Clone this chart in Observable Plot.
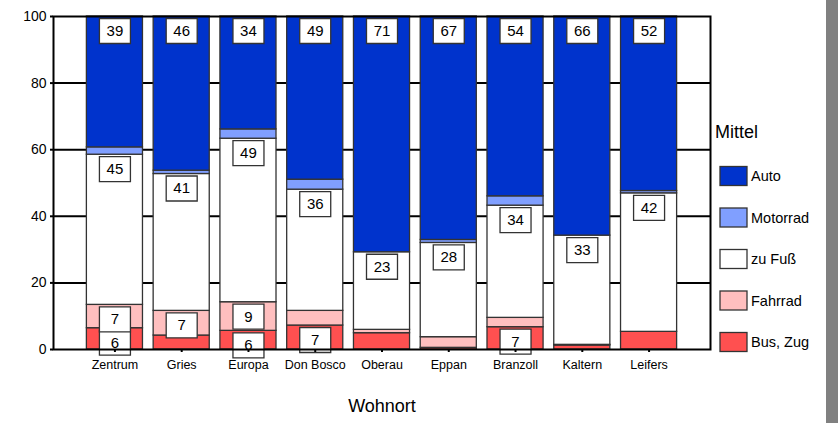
<!DOCTYPE html>
<html>
<head>
<meta charset="utf-8">
<script src="https://cdn.jsdelivr.net/npm/d3@7"></script>
<script src="https://cdn.jsdelivr.net/npm/@observablehq/plot@0.6"></script>
<style>
  html, body { margin: 0; padding: 0; background: #fff; }
  #chart { position: relative; width: 838px; height: 423px; }
</style>
</head>
<body>
<div id="chart"></div>
<script>
const places = ["Zentrum", "Gries", "Europa", "Don Bosco", "Oberau", "Eppan", "Branzoll", "Kaltern", "Leifers"];
const modes = ["Bus, Zug", "Fahrrad", "zu Fuß", "Motorrad", "Auto"];
const legendOrder = ["Auto", "Motorrad", "zu Fuß", "Fahrrad", "Bus, Zug"];
const colors = ["#ff5050", "#ffbfbf", "#ffffff", "#809fff", "#0033cc"];
const busZug   = [6.4, 4.2, 5.6, 7.2, 4.9, 0.5, 6.7, 1.2, 5.3];
const fahrrad  = [7.0, 7.4, 8.6, 4.4, 1.0, 3.2, 2.8, 0.2, 0.0];
const zuFuss   = [45.1, 41.1, 49.1, 36.4, 23.3, 28.3, 33.7, 32.8, 41.6];
const motorrad = [2.2, 1.0, 2.8, 3.0, 0.0, 0.9, 2.8, 0.0, 0.7];
const auto     = [39.3, 46.3, 33.9, 49.0, 70.8, 67.1, 54.0, 65.8, 52.4];
const yTicks = [0, 20, 40, 60, 80, 100];
const gridValues = [20, 40, 60, 80];

const series = [busZug, fahrrad, zuFuss, motorrad, auto];
const data = [];
places.forEach((p, i) => {
  modes.forEach((m, j) => data.push({Wohnort: p, Mittel: m, value: series[j][i]}));
});

const boxSymbol = { draw(ctx) { ctx.rect(-15.5, -12.5, 31, 25); } };
const labelOpts = {x: "Wohnort", y: "value", z: "Mittel"};

const chart = Plot.plot({
  width: 838,
  height: 423,
  marginLeft: 53,
  marginRight: 128,
  marginTop: 16,
  marginBottom: 74,
  style: {fontFamily: "'Liberation Sans', Arial, sans-serif", background: "#fff", color: "#000"},
  x: {domain: places, paddingInner: 0.16, paddingOuter: 0.5, round: false, label: null},
  y: {domain: [0, 100], ticks: yTicks, label: null},
  color: {domain: modes, range: colors},
  marks: [
    Plot.ruleY(gridValues, {stroke: "#000", strokeWidth: 2}),
    Plot.barY(data, Plot.stackY({x: "Wohnort", y: "value", fill: "Mittel", z: "Mittel", stroke: "#333", strokeWidth: 1.3})),
    Plot.dot(data, Plot.filter(d => d.value >= 5.5, Plot.stackY2({...labelOpts, symbol: boxSymbol, r: 5, fill: "#fff", stroke: "#333", strokeWidth: 1.3, dy: 14.5}))),
    Plot.text(data, Plot.filter(d => d.value >= 5.5, Plot.stackY2({...labelOpts, text: d => d3.format(".0f")(d.value), fontSize: 15, fill: "#000", dy: 14.5}))),
    Plot.frame({stroke: "#000", strokeWidth: 2}),
    Plot.axisY({ticks: yTicks, tickSize: 3, tickPadding: 4, fontSize: 14, stroke: "#000", strokeWidth: 2, label: null}),
    Plot.axisX({tickSize: 3, tickPadding: 8, fontSize: 12.5, stroke: "#000", strokeWidth: 2, label: null}),
    Plot.text(["Wohnort"], {frameAnchor: "bottom", dy: 62, fontSize: 18, fill: "#000"})
  ]
});

document.getElementById("chart").appendChild(chart);

const svg = d3.select(chart);
const color = chart.scale("color");
const colorOf = name => color.range[color.domain.indexOf(name)];
svg.append("rect").attr("x", 826).attr("y", 0).attr("width", 12).attr("height", 423).attr("fill", "#808080");
const leg = svg.append("g").attr("font-family", "'Liberation Sans', Arial, sans-serif").attr("text-anchor", "start");
leg.append("text").attr("x", 715).attr("y", 138).attr("font-size", 18).attr("fill", "#000").attr("text-anchor", "start").text("Mittel");
legendOrder.forEach((m, i) => {
  const cy = 176 + i * 41.5;
  leg.append("rect").attr("x", 720).attr("y", cy - 9.5).attr("width", 27).attr("height", 19)
    .attr("fill", colorOf(m)).attr("stroke", "#333").attr("stroke-width", 1.3);
  leg.append("text").attr("x", 751).attr("y", cy + 5).attr("font-size", 14.5).attr("fill", "#000").attr("text-anchor", "start").text(m);
});
</script>
</body>
</html>
